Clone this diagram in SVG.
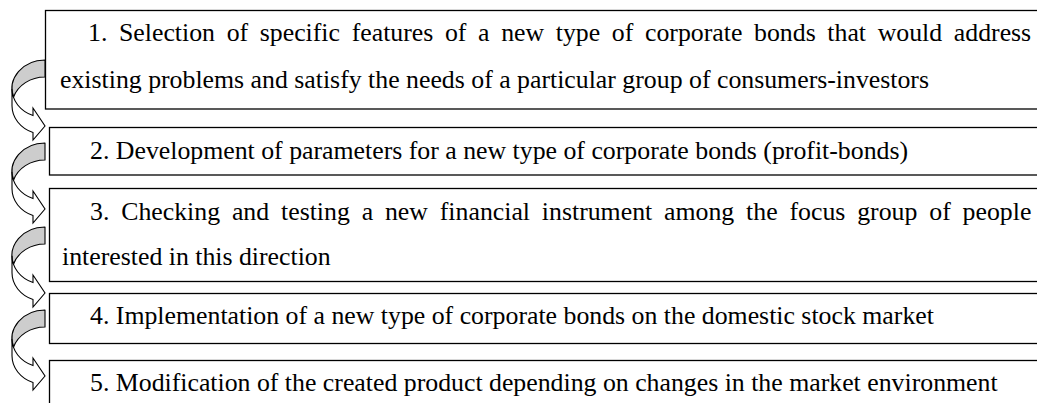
<svg xmlns="http://www.w3.org/2000/svg" xmlns:xlink="http://www.w3.org/1999/xlink" width="1037" height="403" viewBox="0 0 1037 403">
  <style>
    .box { fill: #ffffff; stroke: #000000; stroke-width: 1.3; }
    .txt { font-family: "Liberation Serif", "Times New Roman", serif; font-size: 25.8px; fill: #000000; }
    .back { fill: #cdcdcd; stroke: #000000; stroke-width: 1.1; stroke-linejoin: round; }
    .front { fill: #ffffff; stroke: #000000; stroke-width: 1.1; stroke-linejoin: miter; }
  </style>
  <defs>
    <g id="curvedArrow">
      <path class="back" d="M45,17 A33 28.75 0 0 0 13.48,37.25 A33 28.75 0 0 1 45,0 Z"/>
      <path class="front" d="M12,28.75 A33 28.75 0 0 0 33,55.53 L33,48.03 L45,66 L33,80.03 L33,72.53 A33 28.75 0 0 1 12,45.75 Z"/>
    </g>
  </defs>

  <g id="node1">
    <rect class="box" x="45.5" y="10.5" width="1060" height="98.5"/>
    <text class="txt" x="88" y="41" word-spacing="5.2">1. Selection of specific features of a new type of corporate bonds that would address</text>
    <text class="txt" x="60" y="88">existing problems and satisfy the needs of a particular group of consumers-investors</text>
  </g>
  <g id="node2">
    <rect class="box" x="49.5" y="127.5" width="1060" height="47.5"/>
    <text class="txt" x="90" y="159">2. Development of parameters for a new type of corporate bonds (profit-bonds)</text>
  </g>
  <g id="node3">
    <rect class="box" x="49.5" y="188.5" width="1060" height="93"/>
    <text class="txt" x="90" y="220" word-spacing="5.4">3. Checking and testing a new financial instrument among the focus group of people</text>
    <text class="txt" x="62" y="265">interested in this direction</text>
  </g>
  <g id="node4">
    <rect class="box" x="49.5" y="293.5" width="1060" height="50"/>
    <text class="txt" x="90" y="324">4. Implementation of a new type of corporate bonds on the domestic stock market</text>
  </g>
  <g id="node5">
    <rect class="box" x="49.5" y="360.5" width="1060" height="60"/>
    <text class="txt" x="90" y="391">5. Modification of the created product depending on changes in the market environment</text>
  </g>

  <g id="connectors">
    <use xlink:href="#curvedArrow" href="#curvedArrow" x="0" y="60"/>
    <use xlink:href="#curvedArrow" href="#curvedArrow" x="0" y="143"/>
    <use xlink:href="#curvedArrow" href="#curvedArrow" x="0" y="227"/>
    <use xlink:href="#curvedArrow" href="#curvedArrow" x="0" y="310"/>
  </g>
</svg>
